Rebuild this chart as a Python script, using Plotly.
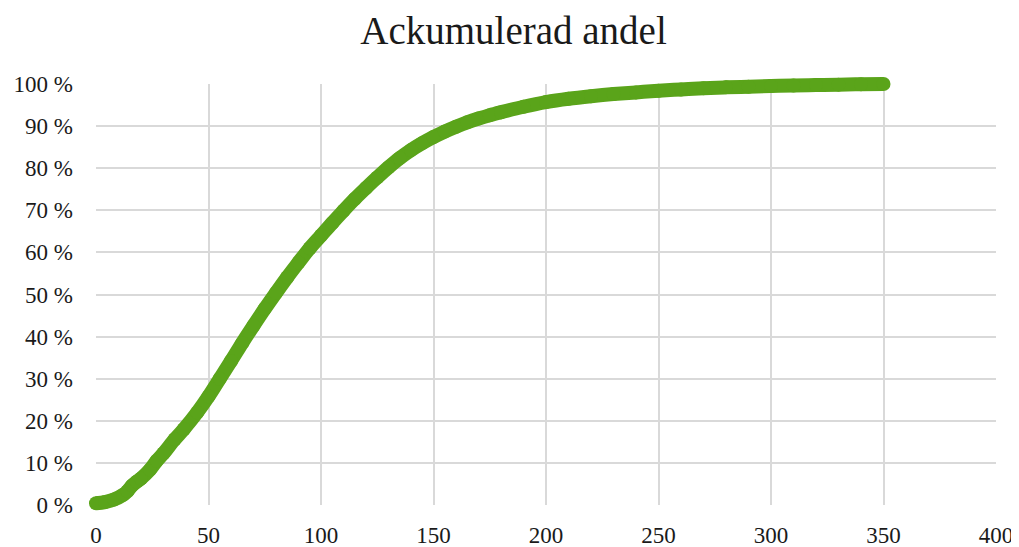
import plotly.graph_objects as go

# ---- data ----
x_vals = [0, 4, 8, 12, 14, 16, 18, 20, 24, 27, 30, 35, 39, 45, 50, 55, 60, 65, 70, 75,
          80, 85, 90, 95, 100, 105, 110, 115, 120, 125, 130, 135, 140, 145, 150, 155,
          160, 165, 170, 175, 180, 190, 200, 210, 220, 230, 240, 250, 260, 270, 280, 290,
          300, 310, 320, 330, 340, 350]
y_vals = [0.4, 0.7, 1.3, 2.4, 3.3, 4.6, 5.5, 6.3, 8.4, 10.5, 12.3, 15.6, 18.0, 22.0, 25.8,
          30.0, 34.2, 38.5, 42.6, 46.6, 50.4, 54.1, 57.6, 61.0, 64.0, 67.0, 69.9, 72.7,
          75.3, 77.8, 80.2, 82.4, 84.3, 85.95, 87.4, 88.7, 89.85, 90.9, 91.8, 92.6, 93.3,
          94.6, 95.7, 96.5, 97.1, 97.6, 98.0, 98.4, 98.7, 99.0, 99.2, 99.35, 99.5, 99.65,
          99.75, 99.85, 99.93, 100.0]
title_text = "Ackumulerad andel"
x_ticks = [0, 50, 100, 150, 200, 250, 300, 350, 400]
y_ticks = [0, 10, 20, 30, 40, 50, 60, 70, 80, 90, 100]
y_ticktext = [f"{v} %" for v in y_ticks]

# ---- layout geometry (page body has an 8px margin) ----
OFF = 8
W, H = 1019 - OFF, 547 - OFF
PL, PR, PT, PB = 96 - OFF, 996 - OFF, 84 - OFF, 505 - OFF  # plot box in figure pixels
XR = (0, 400)
YR = (0, 100)

xd = [PL / W, PR / W]
yd = [(H - PB) / H, (H - PT) / H]
# data axes span the whole figure with matching scale (so the thick line is not clipped)
xs = (XR[1] - XR[0]) / (PR - PL)
ys = (YR[1] - YR[0]) / (PB - PT)
x2r = [XR[0] - PL * xs, XR[1] + (W - PR) * xs]
y2r = [YR[0] - (H - PB) * ys, YR[1] + PT * ys]

GREEN = "#5AA41A"
GRID = "#D9D9D9"
FONT = "Liberation Serif"

fig = go.Figure()
# invisible trace so the gridded subplot is drawn
fig.add_trace(go.Scatter(x=[XR[0], XR[1]], y=[YR[0], YR[1]], mode="markers",
                         marker=dict(opacity=0), showlegend=False, hoverinfo="skip"))
fig.add_trace(go.Scatter(
    x=x_vals, y=y_vals, xaxis="x2", yaxis="y2",
    mode="lines+markers", line=dict(color=GREEN, width=14, shape="spline"),
    marker=dict(color=GREEN, size=14), cliponaxis=False, showlegend=False,
    hoverinfo="skip",
))

fig.update_layout(
    width=W, height=H,
    margin=dict(l=0, r=0, t=0, b=0, autoexpand=False),
    paper_bgcolor="white", plot_bgcolor="rgba(0,0,0,0)",
    font=dict(family=FONT, color="#1a1a1a", size=23),
    title=dict(text=title_text, x=0.5, xanchor="center", y=1 - (30.5 - OFF) / H,
               yref="container", yanchor="middle", automargin=False,
               font=dict(family=FONT, size=39, color="#1a1a1a")),
    xaxis=dict(domain=xd, range=list(XR), tickvals=x_ticks, showgrid=True,
               gridcolor=GRID, gridwidth=1.5, zeroline=False, showline=False,
               ticks="", ticklabelstandoff=14, fixedrange=True, automargin=False),
    yaxis=dict(domain=yd, range=list(YR), tickvals=y_ticks, ticktext=y_ticktext,
               showgrid=True, gridcolor=GRID, gridwidth=1.5, zeroline=False,
               showline=False, ticks="", ticklabelstandoff=22, fixedrange=True,
               automargin=False),
    xaxis2=dict(domain=[0, 1], range=x2r, anchor="y2", visible=False, fixedrange=True,
                automargin=False),
    yaxis2=dict(domain=[0, 1], range=y2r, anchor="x2", visible=False, fixedrange=True,
                automargin=False),
)

fig.write_html("out.html")
